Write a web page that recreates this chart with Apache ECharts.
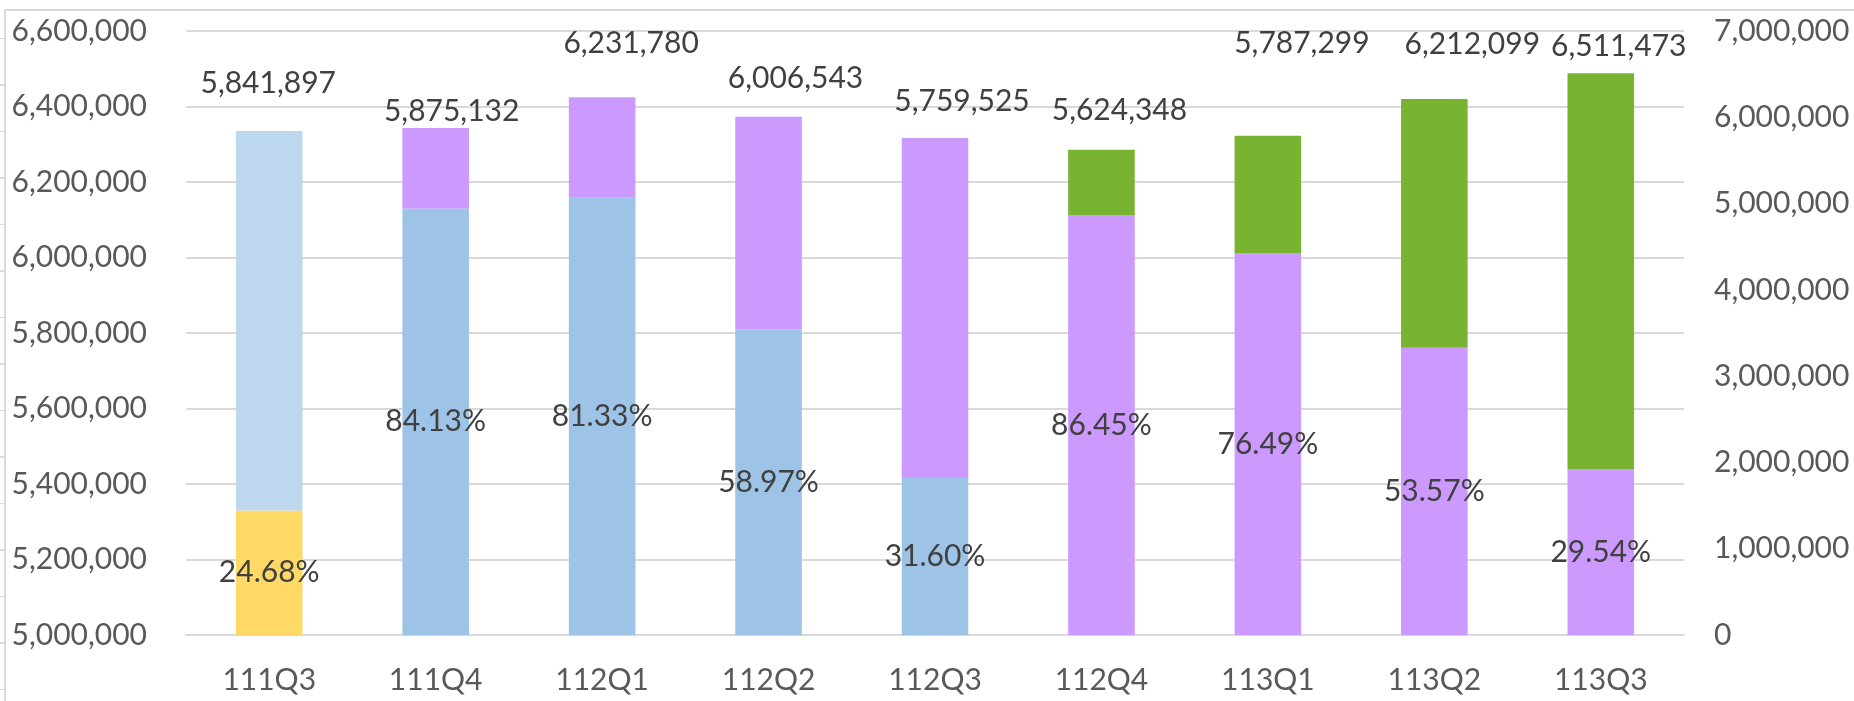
<!DOCTYPE html>
<html><head><meta charset="utf-8">
<script src="https://cdn.jsdelivr.net/npm/echarts@6/dist/echarts.min.js"></script>
<style>
html,body{margin:0;padding:0;background:#fff;}
#wrap{position:relative;width:1854px;height:701px;overflow:hidden;}
#chart{position:absolute;left:0;top:0;width:1854px;height:701px;}
#frame{position:absolute;left:4px;top:9px;right:-10px;bottom:-10px;border-top:2px solid #dadada;border-left:2px solid #dadada;pointer-events:none;}
#rows{position:absolute;left:0;top:0;width:4px;height:701px;pointer-events:none;
  background:repeating-linear-gradient(to bottom, transparent 0, transparent 45px, #dadada 45px, #dadada 46.5px);
  background-position:0 -7px;}
</style></head><body>
<div id="wrap"><div id="chart"></div><div id="frame"></div><div id="rows"></div></div>
<script>
// ---- data ----
const categories = ['111Q3','111Q4','112Q1','112Q2','112Q3','112Q4','113Q1','113Q2','113Q3'];
const totals = [5841897, 5875132, 6231780, 6006543, 5759525, 5624348, 5787299, 6212099, 6511473];
const yellowShare    = [24.68, null, null, null, null, null, null, null, null];
const blueShare      = [null, 84.13, 81.33, 58.97, 31.60, null, null, null, null];
const lightBlueShare = [75.32, null, null, null, null, null, null, null, null];
const purpleShare    = [null, 15.87, 18.67, 41.03, 68.40, 86.45, 76.49, 53.57, 29.54];
const greenShare     = [null, null, null, null, null, 13.55, 23.51, 46.43, 70.46];
const leftTicks  = {min: 5000000, max: 6600000, interval: 200000};
const rightTicks = {min: 0, max: 7000000, interval: 1000000};

// ---- layout (label placement, px) ----
const totalLabelOffset = [[-1,-48],[16,-17],[29,-54],[27,-38],[27,-37],[18,-39],[34,-92],[38,-55],[18,-27]];
const FONT = 'Lato, "Open Sans", "Liberation Sans", sans-serif';

const stackDefs = [
  {name:'yellow', shares: yellowShare, color:'#FFD966'},
  {name:'blue', shares: blueShare, color:'#9DC3E6'},
  {name:'lightblue', shares: lightBlueShare, color:'#BDD7EE'},
  {name:'purple', shares: purpleShare, color:'#CC99FF'},
  {name:'green', shares: greenShare, color:'#78B431'}
];
function bottomIdx(i){ return stackDefs.findIndex(d => d.shares[i] != null); }
function topIdx(i){ let t=-1; stackDefs.forEach((d,k)=>{ if(d.shares[i]!=null) t=k; }); return t; }
const fmt = v => Math.round(v).toLocaleString('en-US');

const series = stackDefs.map((d, k) => ({
  name: d.name, type: 'bar', stack: 'total', yAxisIndex: 1, barWidth: '40%',
  itemStyle: {color: d.color},
  data: d.shares.map((s, i) => {
    if (s == null) return '-';
    const item = {value: totals[i] * s / 100};
    if (bottomIdx(i) === k) {
      item.label = {show: true, position: 'inside', formatter: s.toFixed(2) + '%',
        color: '#404040', fontSize: 30, fontFamily: FONT};
    } else if (topIdx(i) === k) {
      item.label = {show: true, position: 'top', distance: 0, align: 'center', verticalAlign: 'middle',
        offset: totalLabelOffset[i], formatter: fmt(totals[i]),
        color: '#404040', fontSize: 30, fontFamily: FONT};
    }
    return item;
  })
}));

const chart = echarts.init(document.getElementById('chart'), null, {renderer: 'canvas'});
chart.setOption({
  animation: false,
  backgroundColor: 'transparent',
  grid: {left: 186, right: 170, top: 31, bottom: 66, containLabel: false},
  xAxis: {
    type: 'category', data: categories,
    axisLine: {show: true, lineStyle: {color: '#d9d9d9', width: 2}},
    axisTick: {show: false},
    axisLabel: {color: '#595959', fontSize: 30, fontFamily: FONT, margin: 30}
  },
  yAxis: [
    {type: 'value', position: 'left', min: leftTicks.min, max: leftTicks.max, interval: leftTicks.interval,
      axisLine: {show: false}, axisTick: {show: false},
      splitLine: {show: true, lineStyle: {color: '#d9d9d9', width: 2}},
      axisLabel: {color: '#595959', fontSize: 30, fontFamily: FONT, margin: 39, formatter: fmt}},
    {type: 'value', position: 'right', min: rightTicks.min, max: rightTicks.max, interval: rightTicks.interval,
      axisLine: {show: false}, axisTick: {show: false}, splitLine: {show: false},
      axisLabel: {color: '#595959', fontSize: 30, fontFamily: FONT, margin: 30, formatter: fmt}}
  ],
  series: series
});
</script>
</body></html>
